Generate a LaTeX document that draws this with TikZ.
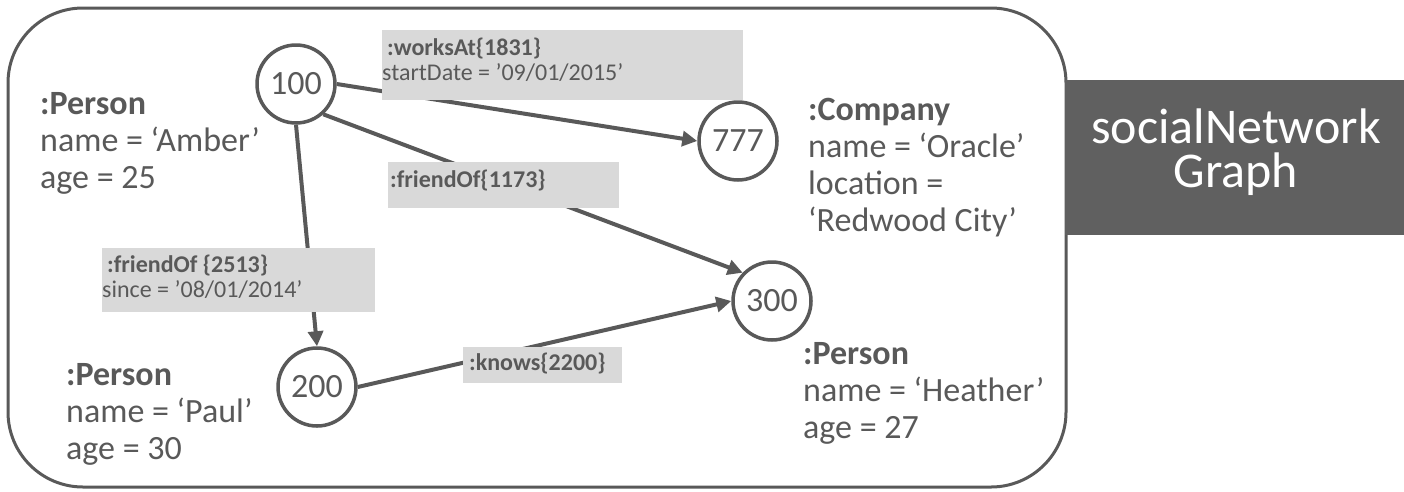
\documentclass[tikz,border=0pt]{standalone}
\usepackage{fontspec}
\setmainfont{Carlito}
\usetikzlibrary{arrows.meta}
\definecolor{ink}{HTML}{595959}
\definecolor{tagfill}{HTML}{D9D9D9}
\definecolor{banner}{HTML}{606060}
\begin{document}
\begin{tikzpicture}[x=1pt,y=-1pt,
  vertex/.style={circle,draw=ink,line width=3.5pt,fill=white,minimum size=78pt,inner sep=0pt,
    text=ink,font=\fontsize{34}{36}\selectfont},
  rel/.style={draw=ink,line width=4pt,-{Triangle[length=15pt,width=15pt]}},
  tag/.style={fill=tagfill,inner sep=0pt,anchor=north west},
  tagtext/.style={anchor=north west,inner sep=0pt,text=ink,align=left,
    font=\fontsize{24}{25}\selectfont},
  props/.style={anchor=north west,inner sep=0pt,text=ink,align=left,
    font=\fontsize{34}{37}\selectfont}]
\useasboundingbox (0,0) rectangle (1404,491);

% graph frame
\draw[ink,line width=3pt,rounded corners=75pt] (8,8) rectangle (1066,487);

% title banner
\node[fill=banner,minimum width=339pt,minimum height=155pt,anchor=north west,inner sep=0pt]
  (banner) at (1065,80) {};
\node[text=white,align=center,inner sep=0pt,font=\fontsize{50}{44}\selectfont]
  (title) at (1236,152) {socialNetwork\\Graph};

% vertices
\node[vertex] (v100) at (296,84) {100};
\node[vertex] (v777) at (738,141) {777};
\node[vertex] (v300) at (772,301) {300};
\node[vertex] (v200) at (317,387) {200};

% edges
\draw[rel] (v100.east) -- (v777.west);
\draw[rel] (v100.-48) -- (v300.136);
\draw[rel] (v100.south) -- (v200.north);
\draw[rel] (v200.east) -- (v300.west);

% edge labels
\node[tag,minimum width=361pt,minimum height=70pt] (tagWork) at (382,30) {};
\node[tagtext] (txtWork) at (382,38) {\hspace{5pt}\textbf{:worksAt\{1831\}}\\startDate = ’09/01/2015’};

\node[tag,minimum width=231pt,minimum height=46pt] (tagFr1) at (388,162) {};
\node[tagtext] (txtFr1) at (390,170) {\textbf{:friendOf\{1173\}}};

\node[tag,minimum width=273pt,minimum height=64pt] (tagFr2) at (102,248) {};
\node[tagtext] (txtFr2) at (102,255) {\hspace{5pt}\textbf{:friendOf \{2513\}}\\since = ’08/01/2014’};

\node[tag,minimum width=159pt,minimum height=36pt] (tagKnows) at (463,347) {};
\node[tagtext] (txtKnows) at (469,353) {\textbf{:knows\{2200\}}};

% vertex properties
\node[props] (pAmber) at (40,92) {\textbf{:Person}\\name = ‘Amber’\\age = 25};
\node[props] (pPaul) at (66,363) {\textbf{:Person}\\name = ‘Paul’\\age = 30};
\node[props] (pOracle) at (808,98) {\textbf{:Company}\\name = ‘Oracle’\\location =\\‘Redwood City’};
\node[props] (pHeather) at (803,342) {\textbf{:Person}\\name = ‘Heather’\\age = 27};
\end{tikzpicture}
\end{document}
